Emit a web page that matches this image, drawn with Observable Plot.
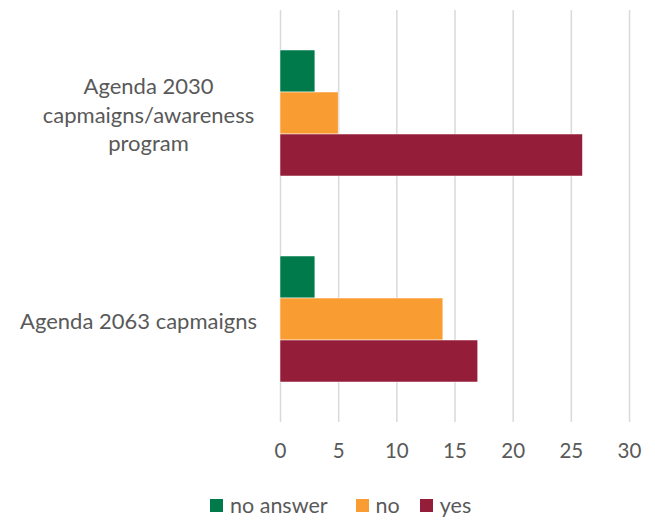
<!DOCTYPE html>
<html><head><meta charset="utf-8">
<script src="https://cdn.jsdelivr.net/npm/d3@7"></script>
<script src="https://cdn.jsdelivr.net/npm/@observablehq/plot@0.6"></script>
<style>
html,body{margin:0;padding:0;background:#fff;}
body{width:655px;height:520px;overflow:hidden;font-family:Lato,sans-serif;}
#legend{display:flex;align-items:center;height:50px;padding-left:210px;color:#595959;font-size:21.5px;font-family:Lato,sans-serif;}
.item{display:flex;align-items:center;margin-right:20px;}
.item:first-child{margin-right:28px;}
.sw{width:13px;height:13px;margin-right:7px;}
</style>
</head><body>
<div id="chart"></div>
<div id="legend"></div>
<script>
const categories = ["Agenda 2030 capmaigns/awareness program", "Agenda 2063 capmaigns"];
const categoryLabels = ["Agenda 2030\ncapmaigns/awareness\nprogram", "Agenda 2063 capmaigns"];
const series = ["no answer", "no", "yes"];
const noAnswerValues = [3, 3];
const noValues = [5, 14];
const yesValues = [26, 17];
const xTicks = [0, 5, 10, 15, 20, 25, 30];
const colors = ["#007A4B", "#F99D33", "#941E3A"];

const seriesValues = [noAnswerValues, noValues, yesValues];
const data = [];
categories.forEach((c, i) => {
  seriesValues.forEach((arr, j) => data.push({category: c, series: series[j], value: arr[i]}));
});
const labelRows = categories.map((c, i) => ({category: c, label: categoryLabels[i]}));

const chart = Plot.plot({
  width: 655, height: 480,
  marginLeft: 280, marginRight: 26, marginTop: 9, marginBottom: 58,
  style: {fontFamily: "Lato, sans-serif", fontSize: "20.5px", color: "#595959", background: "#fff"},
  x: {domain: [0, 30], ticks: xTicks, tickSize: 0, tickPadding: 21, label: null},
  fy: {domain: categories, padding: 0, axis: null},
  y: {domain: series, paddingInner: 0, paddingOuter: 0.92, axis: null},
  color: {domain: series, range: colors},
  marks: [
    Plot.ruleX(xTicks, {stroke: "#d9d9d9", strokeWidth: 1.5}),
    Plot.barX(data, {fy: "category", y: "series", x: "value", fill: "series", stroke: "#fff", strokeWidth: 0.5}),
    Plot.text(labelRows.slice(0, 1), {fy: "category", text: "label", frameAnchor: "left", dx: -132, textAnchor: "middle", lineHeight: 1.3, fill: "#595959", fontSize: 22}),
    Plot.text(labelRows.slice(1), {fy: "category", text: "label", frameAnchor: "left", dx: -142, textAnchor: "middle", lineHeight: 1.3, fill: "#595959", fontSize: 22})
  ]
});
document.getElementById("chart").appendChild(chart);

const legend = document.getElementById("legend");
series.forEach((s, i) => {
  const it = document.createElement("div"); it.className = "item";
  const sw = document.createElement("div"); sw.className = "sw"; sw.style.background = colors[i];
  const t = document.createElement("span"); t.textContent = s;
  it.appendChild(sw); it.appendChild(t); legend.appendChild(it);
});
</script>
</body></html>
